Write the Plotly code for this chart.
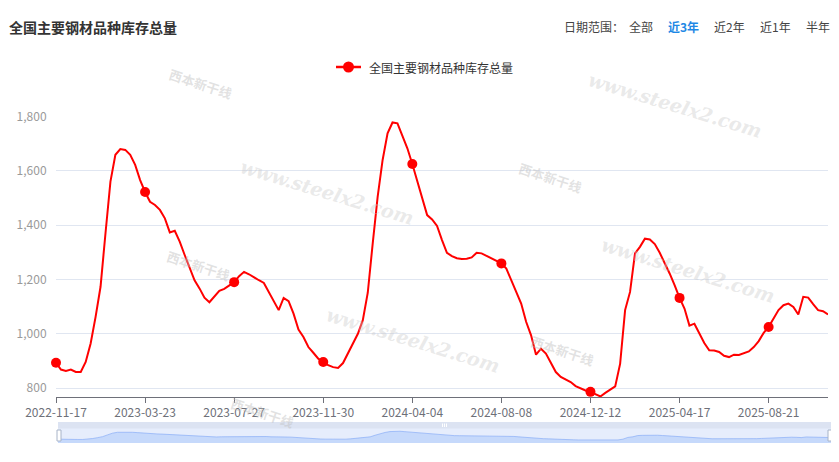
import plotly.graph_objects as go
import pandas as pd

# page body has an 8px margin; the figure is sized to fit the window
OFF = 8
W, H = 839 - OFF, 462 - OFF

title_text = "全国主要钢材品种库存总量"
series_name = "全国主要钢材品种库存总量"
range_label = "日期范围："
range_options = ["全部", "近3年", "近2年", "近1年", "半年"]
active_option = "近3年"

dates = pd.date_range("2022-11-17", periods=157, freq="7D").strftime("%Y-%m-%d").tolist()

values = [
    893, 868, 863, 868, 859, 859, 896, 964, 1062, 1173,
    1370, 1560, 1659, 1680, 1677, 1659, 1622, 1566, 1522, 1486,
    1474, 1456, 1425, 1373, 1379, 1339, 1290, 1246, 1197, 1167,
    1133, 1116, 1136, 1158, 1165, 1179, 1190, 1212, 1228, 1219,
    1207, 1197, 1187, 1154, 1123, 1087, 1132, 1120, 1074, 1015,
    988, 951, 930, 908, 896, 884, 877, 874, 892, 927,
    966, 1000, 1050, 1151, 1333, 1505, 1640, 1738, 1778, 1775,
    1729, 1683, 1625, 1560, 1499, 1437, 1421, 1397, 1345, 1298,
    1286, 1278, 1275, 1276, 1281, 1298, 1296, 1286, 1277, 1269,
    1259, 1240, 1197, 1151, 1111, 1044, 994, 923, 945, 927,
    890, 859, 841, 831, 822, 807, 798, 791, 786, 777,
    769, 782, 794, 806, 890, 1087, 1154, 1296, 1320, 1350,
    1347, 1330, 1298, 1261, 1222, 1179, 1132, 1093, 1030, 1037,
    1000, 966, 939, 938, 933, 919, 914, 923, 922, 929,
    935, 951, 973, 1003, 1025, 1056, 1087, 1105, 1111, 1099,
    1071, 1136, 1133, 1109, 1087, 1083, 1071,
]

y_ticks = [800, 1000, 1200, 1400, 1600, 1800]
tick_step = 18

FONT = "Noto Sans CJK SC, Noto Sans, sans-serif"
RED = "#ff0000"


def px(x):
    return (x - OFF) / W


def py(y):
    return 1 - (y - OFF) / H


n = len(values)
tick_dates = dates[::tick_step]
tick_vals = values[::tick_step]

fig = go.Figure()

fig.add_trace(go.Scatter(
    x=dates, y=values, mode="lines", line=dict(color=RED, width=2),
    xaxis="x", yaxis="y", showlegend=False, hoverinfo="skip", cliponaxis=False))
fig.add_trace(go.Scatter(
    x=tick_dates, y=tick_vals, mode="markers",
    marker=dict(color=RED, size=10), xaxis="x", yaxis="y",
    showlegend=False, hoverinfo="skip", cliponaxis=False))

vmin, vmax = min(values), max(values)
pad = (vmax - vmin) * 0.3
fig.add_trace(go.Scatter(
    x=dates, y=values, mode="lines", fill="tozeroy",
    line=dict(color="rgba(141,176,246,0.9)", width=0.8),
    fillcolor="rgba(160,193,250,0.45)",
    xaxis="x2", yaxis="y2", showlegend=False, hoverinfo="skip"))

shapes = []
annotations = []

shapes.append(dict(type="rect", xref="paper", yref="paper", layer="below",
                   x0=px(58), x1=px(831), y0=py(443), y1=py(422),
                   fillcolor="#e6edfc", line=dict(width=0)))
shapes.append(dict(type="rect", xref="paper", yref="paper", layer="below",
                   x0=px(58), x1=px(831), y0=py(428.5), y1=py(422),
                   fillcolor="#dce3f2", line=dict(width=0)))
for hx in (59, 830):
    shapes.append(dict(type="rect", xref="paper", yref="paper",
                       x0=px(hx - 2), x1=px(hx + 2), y0=py(441), y1=py(430),
                       fillcolor="#ffffff", line=dict(color="#a8b4c8", width=1)))
for gx in (442.5, 444.5, 446.5):
    shapes.append(dict(type="line", xref="paper", yref="paper",
                       x0=px(gx), x1=px(gx), y0=py(427), y1=py(423.5),
                       line=dict(color="#ffffff", width=1)))

shapes.append(dict(type="line", xref="paper", yref="paper",
                   x0=px(336), x1=px(361), y0=py(67), y1=py(67),
                   line=dict(color=RED, width=2.5)))
shapes.append(dict(type="circle", xref="paper", yref="paper",
                   x0=px(343), x1=px(354), y0=py(72.5), y1=py(61.5),
                   fillcolor=RED, line=dict(color=RED, width=0)))
annotations.append(dict(text=series_name, x=px(367), y=py(67), xref="paper", yref="paper",
                        xanchor="left", yanchor="middle", showarrow=False,
                        font=dict(size=12, color="#333333", family=FONT)))

annotations.append(dict(text="<b>" + title_text + "</b>", x=px(7), y=py(27), xref="paper", yref="paper",
                        xanchor="left", yanchor="middle", showarrow=False,
                        font=dict(size=14, color="#333333", family=FONT)))

annotations.append(dict(text=range_label, x=px(562), y=py(27), xref="paper", yref="paper",
                        xanchor="left", yanchor="middle", showarrow=False,
                        font=dict(size=12, color="#444444", family=FONT)))
opt_x = [627, 666, 712, 758, 804]
for label, ox in zip(range_options, opt_x):
    active = label == active_option
    annotations.append(dict(text=("<b>" + label + "</b>") if active else label,
                            x=px(ox), y=py(27), xref="paper", yref="paper",
                            xanchor="left", yanchor="middle", showarrow=False,
                            font=dict(size=12, color="#1e88e5" if active else "#444444", family=FONT)))

wm_url = "www.steelx2.com"
for cx, cy in [(675, 105), (327, 192), (413, 340), (688, 270)]:
    annotations.append(dict(text="<b><i>" + wm_url + "</i></b>", x=px(cx), y=py(cy), xref="paper", yref="paper",
                            xanchor="center", yanchor="middle", showarrow=False, textangle=17,
                            font=dict(size=19, color="rgba(200,200,200,0.4)", family="DejaVu Serif")))
wm_logo = "西本新干线"
for cx, cy in [(200, 84), (550, 177), (198, 265), (562, 350), (262, 412)]:
    annotations.append(dict(text="<b>" + wm_logo + "</b>", x=px(cx), y=py(cy), xref="paper", yref="paper",
                            xanchor="center", yanchor="middle", showarrow=False, textangle=18,
                            font=dict(size=13, color="rgba(190,190,190,0.45)", family=FONT)))

fig.update_layout(
    width=W, height=H,
    margin=dict(l=0, r=0, t=0, b=0),
    paper_bgcolor="#ffffff", plot_bgcolor="rgba(0,0,0,0)",
    showlegend=False,
    font=dict(family=FONT),
    shapes=shapes, annotations=annotations,
    xaxis=dict(
        type="category", domain=[px(56), px(828)], anchor="y",
        range=[0, n - 1], tickmode="array", tickvals=tick_dates, ticktext=tick_dates,
        showgrid=False, zeroline=False, showline=True, linecolor="#6e7079", linewidth=1,
        ticks="outside", ticklen=5, tickcolor="#6e7079", tickwidth=1,
        tickfont=dict(size=12, color="#6e7079", family=FONT), automargin=False,
        fixedrange=True),
    yaxis=dict(
        domain=[py(397), py(116.5)], anchor="x",
        range=[767, 1800], tickmode="array", tickvals=y_ticks,
        tickformat=",", showgrid=True, gridcolor="#e0e6f1", gridwidth=1,
        zeroline=False, showline=False, ticks="outside", ticklen=6, tickcolor="rgba(0,0,0,0)",
        tickfont=dict(size=12, color="#9a9a9a", family=FONT), automargin=False,
        fixedrange=True),
    xaxis2=dict(
        type="category", domain=[px(58), px(831)], anchor="y2",
        range=[0, n - 1], showticklabels=False, showgrid=False, zeroline=False,
        showline=False, ticks="", automargin=False, fixedrange=True),
    yaxis2=dict(
        domain=[py(443), py(428.5)], anchor="x2",
        range=[vmin - pad, vmax + pad], showticklabels=False, showgrid=False,
        zeroline=False, showline=False, ticks="", automargin=False, fixedrange=True),
)

fig.write_html("out.html")
